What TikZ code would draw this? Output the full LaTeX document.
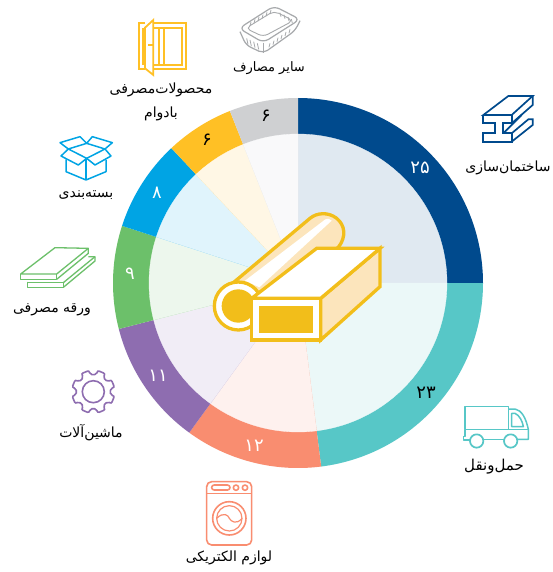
\documentclass[tikz,border=0pt]{standalone}
\usepackage{fontspec}
\newfontfamily\arfont[Script=Arabic]{DejaVu Sans}
\TeXXeTstate=1
\definecolor{cA}{HTML}{004A8D}
\definecolor{cB}{HTML}{57C7C7}
\definecolor{cC}{HTML}{F98D70}
\definecolor{cD}{HTML}{8E6DB0}
\definecolor{cE}{HTML}{6CC06A}
\definecolor{cF}{HTML}{00A4E4}
\definecolor{cG}{HTML}{FFC025}
\definecolor{cH}{HTML}{CFD0D2}
\definecolor{icY}{HTML}{F2BE1A}
\definecolor{icP}{HTML}{FCE5BC}
\definecolor{icG}{HTML}{A7A9AC}
\newcommand{\sector}[3]{%
  \fill[#3] (0,0) -- plot[domain=#1:#2,samples=60] (\x-90:185) -- cycle;
  \path[fill=#3!12!white,draw=#3!12!white,line width=.3pt] (0,0) -- plot[domain=#1:#2,samples=60] (\x-90:149) -- cycle;
}
\tikzset{
  lab/.style={font=\arfont\fontsize{14}{16}\selectfont,text=black,inner sep=0pt,align=center},
  num/.style={font=\arfont\fontsize{18}{20}\selectfont,inner sep=0pt},
  zoomed/.style={x=1pt/3,y=-1pt/3,line join=round},
}
\begin{document}
\begin{tikzpicture}[x=1pt,y=-1pt]
\useasboundingbox (0,0) rectangle (553,572);
\fill[white] (0,0) rectangle (553,572);
\begin{scope}[shift={(298,283)}]
\sector{0}{90}{cA}
\sector{90}{172.8}{cB}
\sector{172.8}{216}{cC}
\sector{216}{255.6}{cD}
\sector{255.6}{288}{cE}
\sector{288}{316.8}{cF}
\sector{316.8}{338.4}{cG}
\sector{338.4}{360}{cH}
\end{scope}
\node[num,text=white] (n25) at (420,168) {۲۵};
\node[num,text=black] (n23) at (426,393) {۲۳};
\node[num,text=white] (n12) at (254,446) {۱۲};
\node[num,text=white] (n11) at (158,376) {۱۱};
\node[num,text=white] (n9) at (130,274) {۹};
\node[num,text=white] (n8) at (157,193) {۸};
\node[num,text=black] (n6a) at (207,140) {۶};
\node[num,text=black] (n6b) at (266,116) {۶};
% centre icon
\begin{scope}[shift={(200,190)},zoomed,line width=3.3pt,draw=icY]
\path[fill=icP,draw=icY] (100,278) -- (330,85) .. controls (350,68) and (385,65) .. (410,85) .. controls (435,105) and (440,140) .. (415,172) -- (170,330) -- cycle;
\fill[white] (135,272) -- (376,88) .. controls (382,84) and (390,86) .. (395,92) -- (178,292) -- cycle;
\draw[fill=white] (115,348) circle (72);
\fill[icY] (115,348) circle (50);
\draw[fill=icP,line join=miter] (362,325) -- (540,175) -- (540,290) -- (362,450) -- cycle;
\draw[fill=white,line join=miter] (155,325) -- (350,175) -- (540,175) -- (362,325) -- cycle;
\draw[fill=white,line join=miter] (155,325) rectangle (362,450);
\fill[icY] (178,347) rectangle (340,430);
\end{scope}
% basket
\begin{scope}[shift={(100,0)},zoomed,draw=icG,line width=1.2pt]
\draw[rounded corners=6pt] (417,85) -- (522,18) -- (600,58) -- (490,128) -- cycle;
\draw[rounded corners=5pt,line width=.9pt] (437,85) -- (522,33) -- (580,62) -- (490,110) -- cycle;
\draw[rounded corners=5pt] (420,95) -- (438,135) -- (490,160) -- (585,92) -- (600,62);
\draw[line width=.8pt] (490,128) -- (490,160);
\foreach \a/\b in {450/78,462/70,474/63,486/56,498/49,510/42}{\draw[line width=.8pt] (\a,\b) -- ++(3,-12);}
\foreach \a/\b in {540/38,552/44,564/51,574/57}{\draw[line width=.8pt] (\a,\b) -- ++(3,12);}
\foreach \a/\b in {440/115,450/120,461/125,472/130}{\draw[line width=.8pt] (\a,\b) -- ++(4,18);}
\foreach \a/\b in {510/130,522/122,534/113,546/105,558/96,570/88}{\draw[line width=.8pt] (\a,\b) -- ++(-3,12);}
\end{scope}
% door
\begin{scope}[shift={(100,0)},zoomed,draw=cG,line width=1.8pt,line join=miter]
\draw (135,70) -- (118,70) -- (118,208) -- (135,208);
\draw (130,83) -- (130,195);
\draw (135,83) -- (160,60) -- (160,225) -- (135,205) -- cycle;
\draw (145,135) -- (160,135);
\draw (160,70) -- (258,70) -- (258,208) -- (160,208);
\draw (160,83) -- (178,83) -- (178,195) -- (160,195);
\draw (192,83) rectangle (245,195);
\draw (178,83) -- (192,83) (178,195) -- (192,195);
\end{scope}
% box
\begin{scope}[shift={(0,130)},zoomed,draw=cF,line width=1.5pt]
\draw (205,57) -- (260,40) -- (315,57) -- (260,85) -- cycle;
\draw (205,57) -- (180,38) -- (240,20) -- (260,40) -- (277,20) -- (337,38) -- (315,57);
\draw (205,57) -- (183,78) -- (235,105) -- (260,85) -- (285,105) -- (333,78) -- (315,57);
\draw (198,88) -- (198,125) -- (258,150) -- (318,125) -- (318,90);
\draw (258,85) -- (258,150);
\end{scope}
% sheets
\begin{scope}[shift={(0,130)},zoomed,draw=cE,line width=1.3pt]
\draw (62,432) -- (165,353) -- (265,355) -- (170,432) -- cycle;
\draw (62,432) -- (62,448) -- (170,448) -- (170,432);
\draw (170,448) -- (265,370) -- (265,355);
\draw (82,455) -- (82,472) -- (190,472) -- (190,458) -- (82,458);
\draw (190,472) -- (285,393) -- (285,380) -- (265,380);
\draw (190,458) -- (285,380);
\end{scope}
% beam
\begin{scope}[shift={(440,90)},zoomed,draw=cA,line width=1.7pt,line join=miter]
\draw (130,75) -- (205,18) -- (278,18) -- (215,75) -- cycle;
\draw (130,75) -- (130,100) -- (165,100) -- (165,130) -- (130,130) -- (130,155) -- (215,155) -- (215,130) -- (190,130) -- (190,100) -- (215,100) -- (215,75);
\draw (215,100) -- (278,45) -- (278,18);
\draw (215,155) -- (278,105) -- (278,88) -- (265,88) -- (215,130);
\draw (190,130) -- (245,75);
\end{scope}
% truck
\begin{scope}[shift={(440,395)},zoomed,draw=cB,line width=1.5pt]
\draw (75,103) -- (75,35) -- (205,35) -- (205,103);
\draw (205,42) -- (225,42) .. controls (245,45) and (258,70) .. (265,103) -- (265,133) -- (232,133);
\draw (70,125) -- (75,125) -- (75,103) -- (265,103);
\draw (70,125) -- (70,135) -- (90,135);
\draw (130,133) -- (192,133);
\draw[line width=1.7pt] (110,138) circle (20);
\draw[line width=1.7pt] (212,138) circle (20);
\draw (215,55) -- (225,55) .. controls (238,60) and (248,80) .. (250,95) -- (215,95) -- cycle;
\end{scope}
% washer
\begin{scope}[shift={(170,470)},zoomed,draw=cC,line width=1.6pt]
\draw[rounded corners=5pt] (110,35) rectangle (245,225);
\draw (110,70) -- (245,70);
\draw[rounded corners=2.5pt] (125,45) rectangle (180,60);
\draw (198,53) circle (8);
\draw (225,53) circle (8);
\draw (178,145) circle (50);
\draw[line width=1.2pt] (178,145) circle (38);
\draw[line width=1.2pt] (140,145) .. controls (160,125) and (175,135) .. (178,145) .. controls (183,155) and (200,165) .. (216,145);
\end{scope}
% gear
\begin{scope}[shift={(93.3,391.7)},x=1pt/3,y=-1pt/3,draw=cD,line width=1.6pt]
\draw[rounded corners=2pt] (11:52) \foreach \i in {0,...,7}{ -- ({\i*45+11}:65) -- ({\i*45+34}:65) -- ({\i*45+34}:52) -- ({\i*45+56}:52)} -- cycle;
\draw (0,0) circle (33);
\end{scope}
% labels
\node[lab,font=\arfont\fontsize{13}{15}\selectfont] (t1) at (269,68) {\beginR سایر مصارف\endR};
\node[lab] (t2) at (161,90) {\beginR محصولات^^^^200cمصرفی\endR};
\node[lab] (t2b) at (161,114) {\beginR بادوام\endR};
\node[lab] (t3) at (86,195) {\beginR بسته^^^^200cبندی\endR};
\node[lab] (t4) at (52,310) {\beginR ورقه مصرفی\endR};
\node[lab] (t5) at (91,433) {\beginR ماشین^^^^200cآلات\endR};
\node[lab] (t6) at (229,558) {\beginR لوازم الکتریکی\endR};
\node[lab,font=\arfont\fontsize{15}{17}\selectfont] (t7) at (494,467) {\beginR حمل^^^^200cونقل\endR};
\node[lab] (t8) at (508,168) {\beginR ساختمان^^^^200cسازی\endR};
\end{tikzpicture}
\end{document}
